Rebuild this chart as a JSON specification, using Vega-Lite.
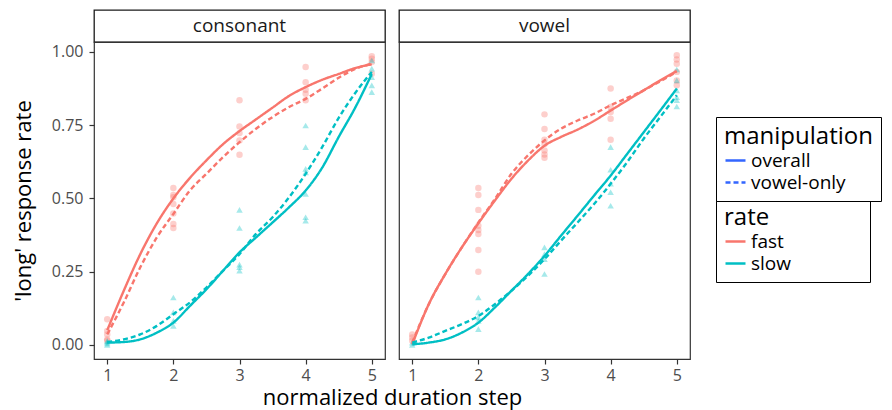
{
"$schema":"https://vega.github.io/schema/vega-lite/v6.json",
"padding":{"left":11,"top":9,"right":0,"bottom":5},
"bounds":"flush",
"columns":2,
"spacing":{"row":0,"column":14},
"datasets":{
"pts":[
{"panel":"consonant","rate":"fast","step":1,"value":0.088},{"panel":"consonant","rate":"fast","step":1,"value":0.048},{"panel":"consonant","rate":"fast","step":1,"value":0.036},{"panel":"consonant","rate":"fast","step":1,"value":0.019},{"panel":"consonant","rate":"fast","step":1,"value":0.014},
{"panel":"consonant","rate":"fast","step":2,"value":0.536},{"panel":"consonant","rate":"fast","step":2,"value":0.512},{"panel":"consonant","rate":"fast","step":2,"value":0.504},{"panel":"consonant","rate":"fast","step":2,"value":0.481},{"panel":"consonant","rate":"fast","step":2,"value":0.449},{"panel":"consonant","rate":"fast","step":2,"value":0.413},{"panel":"consonant","rate":"fast","step":2,"value":0.399},
{"panel":"consonant","rate":"fast","step":3,"value":0.835},{"panel":"consonant","rate":"fast","step":3,"value":0.746},{"panel":"consonant","rate":"fast","step":3,"value":0.723},{"panel":"consonant","rate":"fast","step":3,"value":0.698},{"panel":"consonant","rate":"fast","step":3,"value":0.649},
{"panel":"consonant","rate":"fast","step":4,"value":0.949},{"panel":"consonant","rate":"fast","step":4,"value":0.897},{"panel":"consonant","rate":"fast","step":4,"value":0.871},{"panel":"consonant","rate":"fast","step":4,"value":0.857},{"panel":"consonant","rate":"fast","step":4,"value":0.835},
{"panel":"consonant","rate":"fast","step":5,"value":0.985},{"panel":"consonant","rate":"fast","step":5,"value":0.977},{"panel":"consonant","rate":"fast","step":5,"value":0.966},{"panel":"consonant","rate":"fast","step":5,"value":0.926},
{"panel":"consonant","rate":"slow","step":1,"value":0.0},{"panel":"consonant","rate":"slow","step":1,"value":0.005},{"panel":"consonant","rate":"slow","step":1,"value":0.01},{"panel":"consonant","rate":"slow","step":1,"value":0.014},
{"panel":"consonant","rate":"slow","step":2,"value":0.162},{"panel":"consonant","rate":"slow","step":2,"value":0.111},{"panel":"consonant","rate":"slow","step":2,"value":0.082},{"panel":"consonant","rate":"slow","step":2,"value":0.065},
{"panel":"consonant","rate":"slow","step":3,"value":0.461},{"panel":"consonant","rate":"slow","step":3,"value":0.399},{"panel":"consonant","rate":"slow","step":3,"value":0.274},{"panel":"consonant","rate":"slow","step":3,"value":0.265},{"panel":"consonant","rate":"slow","step":3,"value":0.253},
{"panel":"consonant","rate":"slow","step":4,"value":0.749},{"panel":"consonant","rate":"slow","step":4,"value":0.675},{"panel":"consonant","rate":"slow","step":4,"value":0.601},{"panel":"consonant","rate":"slow","step":4,"value":0.589},{"panel":"consonant","rate":"slow","step":4,"value":0.515},{"panel":"consonant","rate":"slow","step":4,"value":0.436},{"panel":"consonant","rate":"slow","step":4,"value":0.424},
{"panel":"consonant","rate":"slow","step":5,"value":0.971},{"panel":"consonant","rate":"slow","step":5,"value":0.943},{"panel":"consonant","rate":"slow","step":5,"value":0.914},{"panel":"consonant","rate":"slow","step":5,"value":0.886},{"panel":"consonant","rate":"slow","step":5,"value":0.863},
{"panel":"vowel","rate":"fast","step":1,"value":0.036},{"panel":"vowel","rate":"fast","step":1,"value":0.025},{"panel":"vowel","rate":"fast","step":1,"value":0.014},
{"panel":"vowel","rate":"fast","step":2,"value":0.536},{"panel":"vowel","rate":"fast","step":2,"value":0.512},{"panel":"vowel","rate":"fast","step":2,"value":0.461},{"panel":"vowel","rate":"fast","step":2,"value":0.407},{"panel":"vowel","rate":"fast","step":2,"value":0.392},{"panel":"vowel","rate":"fast","step":2,"value":0.379},{"panel":"vowel","rate":"fast","step":2,"value":0.324},{"panel":"vowel","rate":"fast","step":2,"value":0.25},
{"panel":"vowel","rate":"fast","step":3,"value":0.787},{"panel":"vowel","rate":"fast","step":3,"value":0.737},{"panel":"vowel","rate":"fast","step":3,"value":0.700},{"panel":"vowel","rate":"fast","step":3,"value":0.686},{"panel":"vowel","rate":"fast","step":3,"value":0.664},{"panel":"vowel","rate":"fast","step":3,"value":0.65},{"panel":"vowel","rate":"fast","step":3,"value":0.639},
{"panel":"vowel","rate":"fast","step":4,"value":0.875},{"panel":"vowel","rate":"fast","step":4,"value":0.812},{"panel":"vowel","rate":"fast","step":4,"value":0.795},{"panel":"vowel","rate":"fast","step":4,"value":0.772},{"panel":"vowel","rate":"fast","step":4,"value":0.700},
{"panel":"vowel","rate":"fast","step":5,"value":0.989},{"panel":"vowel","rate":"fast","step":5,"value":0.974},{"panel":"vowel","rate":"fast","step":5,"value":0.960},{"panel":"vowel","rate":"fast","step":5,"value":0.932},{"panel":"vowel","rate":"fast","step":5,"value":0.903},{"panel":"vowel","rate":"fast","step":5,"value":0.886},
{"panel":"vowel","rate":"slow","step":1,"value":0.0},{"panel":"vowel","rate":"slow","step":1,"value":0.008},
{"panel":"vowel","rate":"slow","step":2,"value":0.162},{"panel":"vowel","rate":"slow","step":2,"value":0.111},{"panel":"vowel","rate":"slow","step":2,"value":0.094},{"panel":"vowel","rate":"slow","step":2,"value":0.082},{"panel":"vowel","rate":"slow","step":2,"value":0.054},
{"panel":"vowel","rate":"slow","step":3,"value":0.333},{"panel":"vowel","rate":"slow","step":3,"value":0.310},{"panel":"vowel","rate":"slow","step":3,"value":0.293},{"panel":"vowel","rate":"slow","step":3,"value":0.242},
{"panel":"vowel","rate":"slow","step":4,"value":0.675},{"panel":"vowel","rate":"slow","step":4,"value":0.598},{"panel":"vowel","rate":"slow","step":4,"value":0.55},{"panel":"vowel","rate":"slow","step":4,"value":0.521},{"panel":"vowel","rate":"slow","step":4,"value":0.475},
{"panel":"vowel","rate":"slow","step":5,"value":0.94},{"panel":"vowel","rate":"slow","step":5,"value":0.903},{"panel":"vowel","rate":"slow","step":5,"value":0.869},{"panel":"vowel","rate":"slow","step":5,"value":0.846},{"panel":"vowel","rate":"slow","step":5,"value":0.835},{"panel":"vowel","rate":"slow","step":5,"value":0.814}
],
"lns":[
{"panel":"consonant","rate":"fast","manipulation":"overall","step":1,"value":0.05},{"panel":"consonant","rate":"fast","manipulation":"overall","step":1.25,"value":0.185},{"panel":"consonant","rate":"fast","manipulation":"overall","step":1.5,"value":0.31},{"panel":"consonant","rate":"fast","manipulation":"overall","step":1.75,"value":0.415},{"panel":"consonant","rate":"fast","manipulation":"overall","step":2,"value":0.5},{"panel":"consonant","rate":"fast","manipulation":"overall","step":2.25,"value":0.57},{"panel":"consonant","rate":"fast","manipulation":"overall","step":2.5,"value":0.63},{"panel":"consonant","rate":"fast","manipulation":"overall","step":2.75,"value":0.685},{"panel":"consonant","rate":"fast","manipulation":"overall","step":3,"value":0.73},{"panel":"consonant","rate":"fast","manipulation":"overall","step":3.25,"value":0.77},{"panel":"consonant","rate":"fast","manipulation":"overall","step":3.5,"value":0.81},{"panel":"consonant","rate":"fast","manipulation":"overall","step":3.75,"value":0.85},{"panel":"consonant","rate":"fast","manipulation":"overall","step":4,"value":0.88},{"panel":"consonant","rate":"fast","manipulation":"overall","step":4.25,"value":0.905},{"panel":"consonant","rate":"fast","manipulation":"overall","step":4.5,"value":0.925},{"panel":"consonant","rate":"fast","manipulation":"overall","step":4.75,"value":0.945},{"panel":"consonant","rate":"fast","manipulation":"overall","step":5,"value":0.958},
{"panel":"consonant","rate":"fast","manipulation":"vowel-only","step":1,"value":0.036},{"panel":"consonant","rate":"fast","manipulation":"vowel-only","step":1.25,"value":0.145},{"panel":"consonant","rate":"fast","manipulation":"vowel-only","step":1.5,"value":0.265},{"panel":"consonant","rate":"fast","manipulation":"vowel-only","step":1.75,"value":0.367},{"panel":"consonant","rate":"fast","manipulation":"vowel-only","step":2,"value":0.447},{"panel":"consonant","rate":"fast","manipulation":"vowel-only","step":2.25,"value":0.527},{"panel":"consonant","rate":"fast","manipulation":"vowel-only","step":2.5,"value":0.584},{"panel":"consonant","rate":"fast","manipulation":"vowel-only","step":2.75,"value":0.641},{"panel":"consonant","rate":"fast","manipulation":"vowel-only","step":3,"value":0.692},{"panel":"consonant","rate":"fast","manipulation":"vowel-only","step":3.25,"value":0.738},{"panel":"consonant","rate":"fast","manipulation":"vowel-only","step":3.5,"value":0.778},{"panel":"consonant","rate":"fast","manipulation":"vowel-only","step":3.75,"value":0.812},{"panel":"consonant","rate":"fast","manipulation":"vowel-only","step":4,"value":0.84},{"panel":"consonant","rate":"fast","manipulation":"vowel-only","step":4.25,"value":0.875},{"panel":"consonant","rate":"fast","manipulation":"vowel-only","step":4.5,"value":0.912},{"panel":"consonant","rate":"fast","manipulation":"vowel-only","step":4.75,"value":0.942},{"panel":"consonant","rate":"fast","manipulation":"vowel-only","step":5,"value":0.96},
{"panel":"consonant","rate":"slow","manipulation":"overall","step":1,"value":0.008},{"panel":"consonant","rate":"slow","manipulation":"overall","step":1.25,"value":0.01},{"panel":"consonant","rate":"slow","manipulation":"overall","step":1.5,"value":0.019},{"panel":"consonant","rate":"slow","manipulation":"overall","step":1.75,"value":0.042},{"panel":"consonant","rate":"slow","manipulation":"overall","step":2,"value":0.076},{"panel":"consonant","rate":"slow","manipulation":"overall","step":2.25,"value":0.133},{"panel":"consonant","rate":"slow","manipulation":"overall","step":2.5,"value":0.19},{"panel":"consonant","rate":"slow","manipulation":"overall","step":2.75,"value":0.253},{"panel":"consonant","rate":"slow","manipulation":"overall","step":3,"value":0.316},{"panel":"consonant","rate":"slow","manipulation":"overall","step":3.25,"value":0.367},{"panel":"consonant","rate":"slow","manipulation":"overall","step":3.5,"value":0.418},{"panel":"consonant","rate":"slow","manipulation":"overall","step":3.75,"value":0.47},{"panel":"consonant","rate":"slow","manipulation":"overall","step":4,"value":0.527},{"panel":"consonant","rate":"slow","manipulation":"overall","step":4.25,"value":0.605},{"panel":"consonant","rate":"slow","manipulation":"overall","step":4.5,"value":0.71},{"panel":"consonant","rate":"slow","manipulation":"overall","step":4.75,"value":0.81},{"panel":"consonant","rate":"slow","manipulation":"overall","step":5,"value":0.925},
{"panel":"consonant","rate":"slow","manipulation":"vowel-only","step":1,"value":0.01},{"panel":"consonant","rate":"slow","manipulation":"vowel-only","step":1.25,"value":0.019},{"panel":"consonant","rate":"slow","manipulation":"vowel-only","step":1.5,"value":0.036},{"panel":"consonant","rate":"slow","manipulation":"vowel-only","step":1.75,"value":0.065},{"panel":"consonant","rate":"slow","manipulation":"vowel-only","step":2,"value":0.105},{"panel":"consonant","rate":"slow","manipulation":"vowel-only","step":2.25,"value":0.145},{"panel":"consonant","rate":"slow","manipulation":"vowel-only","step":2.5,"value":0.196},{"panel":"consonant","rate":"slow","manipulation":"vowel-only","step":2.75,"value":0.253},{"panel":"consonant","rate":"slow","manipulation":"vowel-only","step":3,"value":0.31},{"panel":"consonant","rate":"slow","manipulation":"vowel-only","step":3.25,"value":0.379},{"panel":"consonant","rate":"slow","manipulation":"vowel-only","step":3.5,"value":0.436},{"panel":"consonant","rate":"slow","manipulation":"vowel-only","step":3.75,"value":0.504},{"panel":"consonant","rate":"slow","manipulation":"vowel-only","step":4,"value":0.584},{"panel":"consonant","rate":"slow","manipulation":"vowel-only","step":4.25,"value":0.675},{"panel":"consonant","rate":"slow","manipulation":"vowel-only","step":4.5,"value":0.775},{"panel":"consonant","rate":"slow","manipulation":"vowel-only","step":4.75,"value":0.86},{"panel":"consonant","rate":"slow","manipulation":"vowel-only","step":5,"value":0.932},
{"panel":"vowel","rate":"fast","manipulation":"overall","step":1,"value":0.002},{"panel":"vowel","rate":"fast","manipulation":"overall","step":1.25,"value":0.139},{"panel":"vowel","rate":"fast","manipulation":"overall","step":1.5,"value":0.242},{"panel":"vowel","rate":"fast","manipulation":"overall","step":1.75,"value":0.333},{"panel":"vowel","rate":"fast","manipulation":"overall","step":2,"value":0.415},{"panel":"vowel","rate":"fast","manipulation":"overall","step":2.25,"value":0.493},{"panel":"vowel","rate":"fast","manipulation":"overall","step":2.5,"value":0.567},{"panel":"vowel","rate":"fast","manipulation":"overall","step":2.75,"value":0.629},{"panel":"vowel","rate":"fast","manipulation":"overall","step":3,"value":0.68},{"panel":"vowel","rate":"fast","manipulation":"overall","step":3.25,"value":0.71},{"panel":"vowel","rate":"fast","manipulation":"overall","step":3.5,"value":0.735},{"panel":"vowel","rate":"fast","manipulation":"overall","step":3.75,"value":0.765},{"panel":"vowel","rate":"fast","manipulation":"overall","step":4,"value":0.8},{"panel":"vowel","rate":"fast","manipulation":"overall","step":4.25,"value":0.835},{"panel":"vowel","rate":"fast","manipulation":"overall","step":4.5,"value":0.869},{"panel":"vowel","rate":"fast","manipulation":"overall","step":4.75,"value":0.903},{"panel":"vowel","rate":"fast","manipulation":"overall","step":5,"value":0.935},
{"panel":"vowel","rate":"fast","manipulation":"vowel-only","step":1,"value":0.008},{"panel":"vowel","rate":"fast","manipulation":"vowel-only","step":1.25,"value":0.139},{"panel":"vowel","rate":"fast","manipulation":"vowel-only","step":1.5,"value":0.242},{"panel":"vowel","rate":"fast","manipulation":"vowel-only","step":1.75,"value":0.333},{"panel":"vowel","rate":"fast","manipulation":"vowel-only","step":2,"value":0.418},{"panel":"vowel","rate":"fast","manipulation":"vowel-only","step":2.25,"value":0.498},{"panel":"vowel","rate":"fast","manipulation":"vowel-only","step":2.5,"value":0.584},{"panel":"vowel","rate":"fast","manipulation":"vowel-only","step":2.75,"value":0.647},{"panel":"vowel","rate":"fast","manipulation":"vowel-only","step":3,"value":0.698},{"panel":"vowel","rate":"fast","manipulation":"vowel-only","step":3.25,"value":0.738},{"panel":"vowel","rate":"fast","manipulation":"vowel-only","step":3.5,"value":0.766},{"panel":"vowel","rate":"fast","manipulation":"vowel-only","step":3.75,"value":0.789},{"panel":"vowel","rate":"fast","manipulation":"vowel-only","step":4,"value":0.818},{"panel":"vowel","rate":"fast","manipulation":"vowel-only","step":4.25,"value":0.843},{"panel":"vowel","rate":"fast","manipulation":"vowel-only","step":4.5,"value":0.869},{"panel":"vowel","rate":"fast","manipulation":"vowel-only","step":4.75,"value":0.9},{"panel":"vowel","rate":"fast","manipulation":"vowel-only","step":5,"value":0.932},
{"panel":"vowel","rate":"slow","manipulation":"overall","step":1,"value":0.002},{"panel":"vowel","rate":"slow","manipulation":"overall","step":1.25,"value":0.008},{"panel":"vowel","rate":"slow","manipulation":"overall","step":1.5,"value":0.019},{"panel":"vowel","rate":"slow","manipulation":"overall","step":1.75,"value":0.042},{"panel":"vowel","rate":"slow","manipulation":"overall","step":2,"value":0.076},{"panel":"vowel","rate":"slow","manipulation":"overall","step":2.25,"value":0.128},{"panel":"vowel","rate":"slow","manipulation":"overall","step":2.5,"value":0.185},{"panel":"vowel","rate":"slow","manipulation":"overall","step":2.75,"value":0.242},{"panel":"vowel","rate":"slow","manipulation":"overall","step":3,"value":0.304},{"panel":"vowel","rate":"slow","manipulation":"overall","step":3.25,"value":0.373},{"panel":"vowel","rate":"slow","manipulation":"overall","step":3.5,"value":0.441},{"panel":"vowel","rate":"slow","manipulation":"overall","step":3.75,"value":0.51},{"panel":"vowel","rate":"slow","manipulation":"overall","step":4,"value":0.578},{"panel":"vowel","rate":"slow","manipulation":"overall","step":4.25,"value":0.652},{"panel":"vowel","rate":"slow","manipulation":"overall","step":4.5,"value":0.726},{"panel":"vowel","rate":"slow","manipulation":"overall","step":4.75,"value":0.8},{"panel":"vowel","rate":"slow","manipulation":"overall","step":5,"value":0.875},
{"panel":"vowel","rate":"slow","manipulation":"vowel-only","step":1,"value":0.008},{"panel":"vowel","rate":"slow","manipulation":"vowel-only","step":1.25,"value":0.025},{"panel":"vowel","rate":"slow","manipulation":"vowel-only","step":1.5,"value":0.048},{"panel":"vowel","rate":"slow","manipulation":"vowel-only","step":1.75,"value":0.071},{"panel":"vowel","rate":"slow","manipulation":"vowel-only","step":2,"value":0.099},{"panel":"vowel","rate":"slow","manipulation":"vowel-only","step":2.25,"value":0.139},{"panel":"vowel","rate":"slow","manipulation":"vowel-only","step":2.5,"value":0.185},{"panel":"vowel","rate":"slow","manipulation":"vowel-only","step":2.75,"value":0.236},{"panel":"vowel","rate":"slow","manipulation":"vowel-only","step":3,"value":0.293},{"panel":"vowel","rate":"slow","manipulation":"vowel-only","step":3.25,"value":0.356},{"panel":"vowel","rate":"slow","manipulation":"vowel-only","step":3.5,"value":0.418},{"panel":"vowel","rate":"slow","manipulation":"vowel-only","step":3.75,"value":0.481},{"panel":"vowel","rate":"slow","manipulation":"vowel-only","step":4,"value":0.55},{"panel":"vowel","rate":"slow","manipulation":"vowel-only","step":4.25,"value":0.624},{"panel":"vowel","rate":"slow","manipulation":"vowel-only","step":4.5,"value":0.704},{"panel":"vowel","rate":"slow","manipulation":"vowel-only","step":4.75,"value":0.778},{"panel":"vowel","rate":"slow","manipulation":"vowel-only","step":5,"value":0.852}
]},
"concat":[
 {"width":291,"height":32,"view":{"stroke":"#1A1A1A","strokeWidth":1.3},"data":{"values":[{"label":"consonant"}]},"mark":{"type":"text","fontSize":19,"color":"#1A1A1A","baseline":"middle"},"encoding":{"text":{"field":"label"}}},
 {"width":291,"height":32,"view":{"stroke":"#1A1A1A","strokeWidth":1.3},"data":{"values":[{"label":"vowel"}]},"mark":{"type":"text","fontSize":19,"color":"#1A1A1A","baseline":"middle"},"encoding":{"text":{"field":"label"}}},
 {"width":291,"height":317,"layer":[
  {"data":{"name":"pts"},"transform":[{"filter":"datum.panel==='consonant'"}],
   "mark":{"type":"point","filled":true,"fillOpacity":0.35,"size":42},
   "encoding":{
    "x":{"field":"step","type":"quantitative","scale":{"domain":[0.8,5.2],"nice":false,"zero":false},"axis":{"values":[1,2,3,4,5],"format":"d","labelPadding":3,"title":"normalized duration step","titleX":298,"titleAnchor":"middle","titleAlign":"center"}},
    "y":{"field":"value","type":"quantitative","scale":{"domain":[-0.048,1.034],"nice":false,"zero":false},"axis":{"values":[0,0.25,0.5,0.75,1],"format":".2f","labelPadding":6,"title":"'long' response rate","titlePadding":16}},
    "color":{"field":"rate","type":"nominal","scale":{"domain":["fast","slow"],"range":["#F8766D","#00BFC4"]},"legend":{"title":"rate","orient":"none","legendX":622,"legendY":188,"symbolType":"stroke","symbolOpacity":1,"symbolStrokeWidth":2.5,"labelExpr":"datum.label + '\u2800\u2800\u2800\u2800\u2800'"}},
    "shape":{"condition":{"test":"datum.rate === 'slow'","value":"triangle-up"},"value":"circle"}}},
  {"data":{"name":"lns"},"transform":[{"filter":"datum.panel==='consonant'"}],
   "mark":{"type":"line","interpolate":"monotone","strokeWidth":2.4},
   "encoding":{
    "x":{"field":"step","type":"quantitative"},
    "y":{"field":"value","type":"quantitative"},
    "color":{"field":"rate","type":"nominal","legend":{"title":"rate","orient":"none","legendX":622,"legendY":188,"symbolType":"stroke","symbolOpacity":1,"symbolStrokeWidth":2.5,"labelExpr":"datum.label + '\u2800\u2800\u2800\u2800\u2800'"}},
    "strokeDash":{"field":"manipulation","type":"nominal","scale":{"domain":["overall","vowel-only"],"range":[[1,0],[5,3]]},"legend":{"title":"manipulation","orient":"none","legendX":622,"legendY":107,"symbolStrokeColor":"#3366FF","symbolStrokeWidth":2.5}}}}
 ]},
 {"width":291,"height":317,"layer":[
  {"data":{"name":"pts"},"transform":[{"filter":"datum.panel==='vowel'"}],
   "mark":{"type":"point","filled":true,"fillOpacity":0.35,"size":42},
   "encoding":{
    "x":{"field":"step","type":"quantitative","scale":{"domain":[0.8,5.2],"nice":false,"zero":false},"axis":{"values":[1,2,3,4,5],"format":"d","labelPadding":3,"title":null}},
    "y":{"field":"value","type":"quantitative","scale":{"domain":[-0.048,1.034],"nice":false,"zero":false},"axis":null},
    "color":{"field":"rate","type":"nominal","legend":{"title":"rate","orient":"none","legendX":622,"legendY":188,"symbolType":"stroke","symbolOpacity":1,"symbolStrokeWidth":2.5,"labelExpr":"datum.label + '\u2800\u2800\u2800\u2800\u2800'"}},
    "shape":{"condition":{"test":"datum.rate === 'slow'","value":"triangle-up"},"value":"circle"}}},
  {"data":{"name":"lns"},"transform":[{"filter":"datum.panel==='vowel'"}],
   "mark":{"type":"line","interpolate":"monotone","strokeWidth":2.4},
   "encoding":{
    "x":{"field":"step","type":"quantitative"},
    "y":{"field":"value","type":"quantitative"},
    "color":{"field":"rate","type":"nominal","legend":{"title":"rate","orient":"none","legendX":622,"legendY":188,"symbolType":"stroke","symbolOpacity":1,"symbolStrokeWidth":2.5,"labelExpr":"datum.label + '\u2800\u2800\u2800\u2800\u2800'"}},
    "strokeDash":{"field":"manipulation","type":"nominal"}}}
 ]}
],
"config":{
 "font":"Open Sans",
 "view":{"stroke":"#333333","strokeWidth":1.2},
 "axis":{"grid":false,"domain":false,"tickColor":"#333333","tickSize":5,"tickWidth":1.2,"labelColor":"#4D4D4D","labelFontSize":16,"titleFontSize":22,"titleFontWeight":"normal","titleColor":"#000000","titlePadding":4},
 "legend":{"strokeColor":"#000000","fillColor":"#FFFFFF","padding":8,"titleFontSize":24,"titleFontWeight":"normal","titleColor":"#000000","labelFontSize":19,"labelColor":"#000000","symbolSize":400,"rowPadding":0,"titlePadding":0}
}
}
